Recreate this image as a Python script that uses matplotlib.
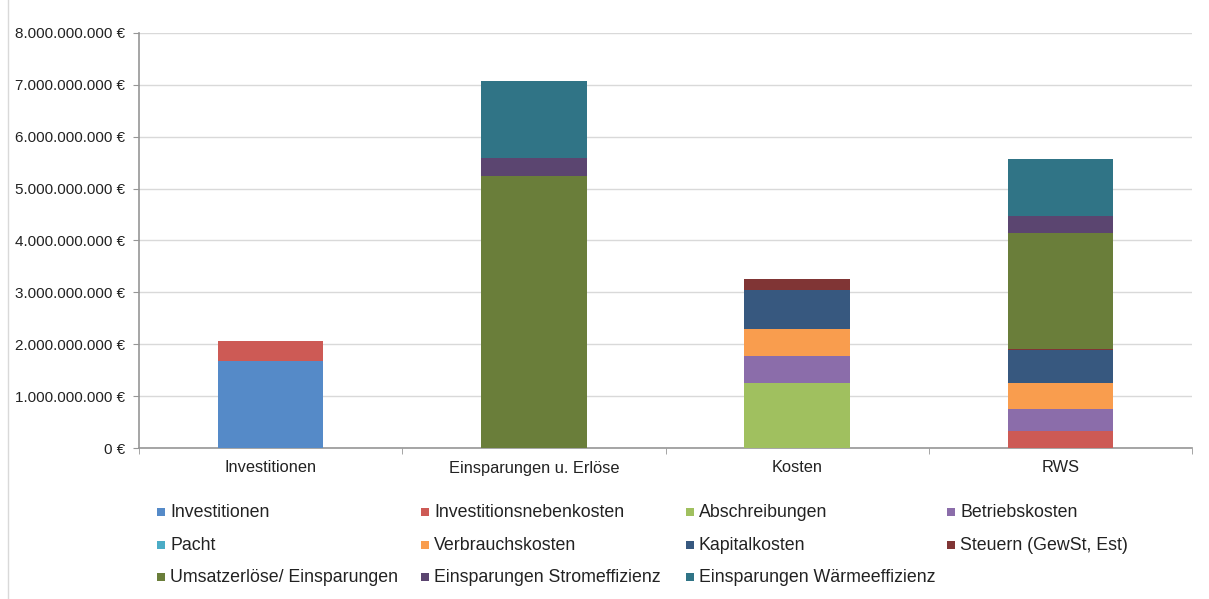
import matplotlib.pyplot as plt
import matplotlib.ticker as mticker
from matplotlib.patches import Rectangle
from matplotlib.lines import Line2D
import numpy as np

plt.rcParams['font.family'] = ['Liberation Sans', 'DejaVu Sans']

categories = ['Investitionen', 'Einsparungen u. Erlöse', 'Kosten', 'RWS']

# Werte je Kategorie in Euro (Reihenfolge wie categories)
investitionen = [1.67e9, 0, 0, 0]
investitionsnebenkosten = [0.40e9, 0, 0, 0.33e9]
abschreibungen = [0, 0, 1.25e9, 0]
betriebskosten = [0, 0, 0.52e9, 0.42e9]
pacht = [0, 0, 0, 0]
verbrauchskosten = [0, 0, 0.53e9, 0.51e9]
kapitalkosten = [0, 0, 0.74e9, 0.62e9]
steuern = [0, 0, 0.22e9, 0.02e9]
umsatzerloese = [0, 5.24e9, 0, 2.25e9]
strom = [0, 0.35e9, 0, 0.32e9]
waerme = [0, 1.48e9, 0, 1.10e9]

series = [
    ('Investitionen', investitionen, '#558AC8'),
    ('Investitionsnebenkosten', investitionsnebenkosten, '#CD5A55'),
    ('Abschreibungen', abschreibungen, '#A0C05F'),
    ('Betriebskosten', betriebskosten, '#8B6DAA'),
    ('Pacht', pacht, '#4BACC6'),
    ('Verbrauchskosten', verbrauchskosten, '#F99D4E'),
    ('Kapitalkosten', kapitalkosten, '#37587F'),
    ('Steuern (GewSt, Est)', steuern, '#803535'),
    ('Umsatzerlöse/ Einsparungen', umsatzerloese, '#6A7E3A'),
    ('Einsparungen Stromeffizienz', strom, '#5B4570'),
    ('Einsparungen Wärmeeffizienz', waerme, '#307486'),
]

W, H = 1209, 599
fig = plt.figure(figsize=(W / 100, H / 100), dpi=100)
ax = fig.add_axes([139 / W, 1 - 448 / H, 1053 / W, 415 / H])

x = np.arange(len(categories))
bottom = np.zeros(len(categories))
for name, vals, col in series:
    vals = np.array(vals)
    ax.bar(x, vals, 0.4, bottom=bottom, color=col, linewidth=0, zorder=3)
    bottom += vals

ax.set_xlim(-0.5, len(categories) - 0.5)
ax.set_ylim(0, 8e9)
ax.yaxis.set_major_locator(mticker.MultipleLocator(1e9))
ax.yaxis.set_major_formatter(mticker.FuncFormatter(
    lambda v, p: '{:,.0f} €'.format(v).replace(',', '.')))
ax.grid(axis='y', color='#d9d9d9', linewidth=1, zorder=0)

ax.set_xticks(x)
ax.set_xticklabels(categories)
ax.set_xticks(np.arange(-0.5, len(categories)), minor=True)
ax.tick_params(axis='x', which='major', length=0, pad=9, labelsize=11.8, labelcolor='#222222')
ax.tick_params(axis='x', which='minor', length=4, color='#969696', direction='out')
ax.tick_params(axis='y', length=4, color='#969696', pad=6, labelsize=11, labelcolor='#222222')

for s in ['top', 'right']:
    ax.spines[s].set_visible(False)
for s in ['left', 'bottom']:
    ax.spines[s].set_color('#969696')
    ax.spines[s].set_linewidth(1.2)

# Legende: 4 Spalten, zeilenweise gefüllt
col_x = [157, 421, 686, 947]
row_y = [512, 545, 577]
for i, (name, vals, col) in enumerate(series):
    r, c = divmod(i, 4)
    mx, my = col_x[c], row_y[r]
    fig.add_artist(Rectangle((mx / W, 1 - (my + 4) / H), 8 / W, 8 / H,
                             transform=fig.transFigure, color=col, linewidth=0))
    fig.text((mx + 13) / W, 1 - (my + 5) / H, name, fontsize=12.8, color='#222222',
             ha='left', va='baseline')

fig.add_artist(Line2D([7.5 / W, 7.5 / W], [0, 1], transform=fig.transFigure,
                      color='#d9d9d9', linewidth=1))

fig.savefig('out.png', dpi=100)
